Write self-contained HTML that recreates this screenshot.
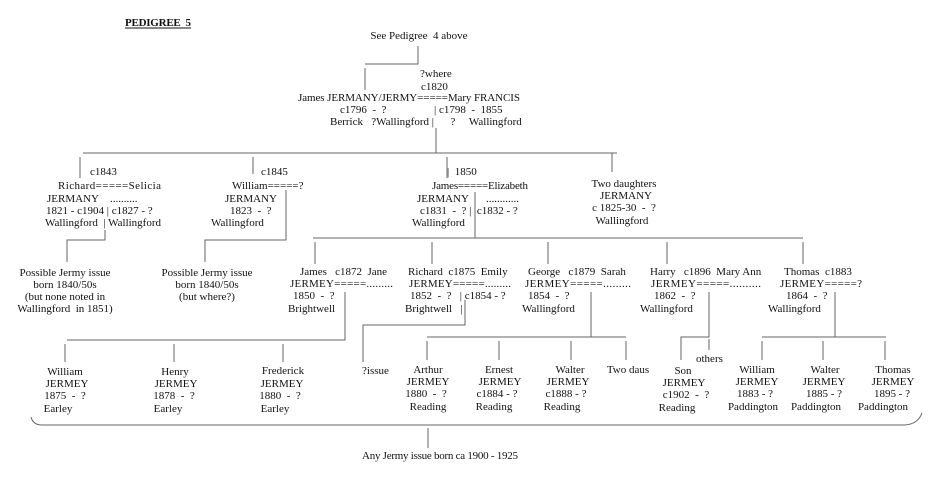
<!DOCTYPE html>
<html><head><meta charset="utf-8"><style>
html,body{margin:0;padding:0;background:#fff;}
svg{display:block;}
text{font-family:"Liberation Serif",serif;font-size:11px;fill:#111;white-space:pre;}
.m{text-anchor:middle;}
line,path,polyline{stroke:#666;stroke-width:1;fill:none;}
</style></head><body>
<svg width="945" height="482" viewBox="0 0 945 482" xml:space="preserve">
<text x="125" y="26" style="font-weight:bold" textLength="66">PEDIGREE  5</text>
<line x1="125" y1="28" x2="191" y2="28" style="stroke:#111"/>
<text class="m" x="419" y="39">See Pedigree  4 above</text>
<polyline points="418,46 418,64 365,64"/>
<line x1="365" y1="68" x2="365" y2="90"/>
<text x="420" y="77">?where</text>
<text x="421" y="90">c1820</text>
<text x="298" y="101" textLength="222">James JERMANY/JERMY=====Mary FRANCIS</text>
<text x="340" y="113">c1796  -  ?</text>
<text x="434" y="113">| c1798  -  1855</text>
<text x="330" y="125">Berrick   ?Wallingford |      ?     Wallingford</text>
<line x1="436" y1="128" x2="436" y2="153"/>
<line x1="83" y1="153" x2="617" y2="153"/>
<line x1="80" y1="157" x2="80" y2="178"/>
<line x1="253" y1="157" x2="253" y2="174"/>
<line x1="447" y1="157" x2="447" y2="178"/>
<line x1="612" y1="153" x2="612" y2="172"/>
<!-- Richard -->
<text x="90" y="175">c1843</text>
<text x="58" y="189" textLength="103">Richard=====Selicia</text>
<text x="47" y="202">JERMANY</text>
<text x="110" y="202">..........</text>
<text x="46" y="214">1821 - c1904 | c1827 - ?</text>
<text x="45" y="226">Wallingford  | Wallingford</text>
<polyline points="105,230 105,240 67,240 67,262"/>
<text class="m" x="65" y="276">Possible Jermy issue</text>
<text class="m" x="65" y="288">born 1840/50s</text>
<text class="m" x="65" y="300">(but none noted in</text>
<text class="m" x="65" y="312">Wallingford  in 1851)</text>
<!-- William -->
<text x="261" y="175">c1845</text>
<text x="232" y="189">William=====?</text>
<text x="225" y="202">JERMANY</text>
<text x="230" y="214">1823  -  ?</text>
<text x="211" y="226">Wallingford</text>
<polyline points="286,190 286,240 205,240 205,262"/>
<text class="m" x="207" y="276">Possible Jermy issue</text>
<text class="m" x="207" y="288">born 1840/50s</text>
<text class="m" x="207" y="300">(but where?)</text>
<!-- James 1850 -->
<text x="447" y="175">|  1850</text>
<text x="432" y="189" textLength="96">James=====Elizabeth</text>
<text x="417" y="202">JERMANY</text>
<text x="486" y="202">............</text>
<text x="420" y="214">c1831  -  ? |  c1832 - ?</text>
<text x="412" y="226">Wallingford</text>
<line x1="475" y1="192" x2="475" y2="238"/>
<!-- two daughters -->
<text class="m" x="624" y="187">Two daughters</text>
<text class="m" x="626" y="199">JERMANY</text>
<text class="m" x="624" y="211">c 1825-30  -  ?</text>
<text class="m" x="622" y="224">Wallingford</text>
<!-- gen3 bar -->
<line x1="313" y1="238" x2="803" y2="238"/>
<line x1="315" y1="242" x2="315" y2="264"/>
<line x1="432" y1="242" x2="432" y2="264"/>
<line x1="548" y1="242" x2="548" y2="264"/>
<line x1="667" y1="242" x2="667" y2="264"/>
<line x1="803" y1="242" x2="803" y2="264"/>
<!-- James c1872 -->
<text x="300" y="275">James   c1872  Jane</text>
<text x="290" y="287" textLength="103">JERMEY=====.........</text>
<text x="293" y="299">1850  -  ?</text>
<text x="288" y="312">Brightwell</text>
<polyline points="345,292 345,340 67,340"/>
<line x1="65" y1="344" x2="65" y2="362"/>
<line x1="174" y1="344" x2="174" y2="362"/>
<line x1="283" y1="344" x2="283" y2="362"/>
<text class="m" x="65" y="375">William</text>
<text class="m" x="67" y="387">JERMEY</text>
<text class="m" x="65" y="399">1875  -  ?</text>
<text class="m" x="58" y="412">Earley</text>
<text class="m" x="175" y="375">Henry</text>
<text class="m" x="176" y="387">JERMEY</text>
<text class="m" x="174" y="399">1878  -  ?</text>
<text class="m" x="168" y="412">Earley</text>
<text class="m" x="283" y="374">Frederick</text>
<text class="m" x="282" y="387">JERMEY</text>
<text class="m" x="280" y="399">1880  -  ?</text>
<text class="m" x="275" y="412">Earley</text>
<!-- Richard c1875 -->
<text x="408" y="275">Richard  c1875  Emily</text>
<text x="409" y="287" textLength="102">JERMEY=====.........</text>
<text x="410" y="299">1852  -  ?   | c1854 - ?</text>
<text x="405" y="312">Brightwell   |</text>
<polyline points="465,300 465,325 363,325 363,362"/>
<text x="362" y="374">?issue</text>
<!-- George -->
<text x="528" y="275">George   c1879  Sarah</text>
<text x="525" y="287" textLength="106">JERMEY=====.........</text>
<text x="528" y="299">1854  -  ?</text>
<text x="522" y="312">Wallingford</text>
<polyline points="591,292 591,337"/>
<line x1="427" y1="337" x2="626" y2="337"/>
<line x1="427" y1="341" x2="427" y2="360"/>
<line x1="499" y1="341" x2="499" y2="360"/>
<line x1="571" y1="341" x2="571" y2="360"/>
<line x1="626" y1="341" x2="626" y2="360"/>
<text class="m" x="428" y="373">Arthur</text>
<text class="m" x="428" y="385">JERMEY</text>
<text class="m" x="426" y="397">1880  -  ?</text>
<text class="m" x="428" y="410">Reading</text>
<text class="m" x="499" y="373">Ernest</text>
<text class="m" x="500" y="385">JERMEY</text>
<text class="m" x="497" y="397">c1884 - ?</text>
<text class="m" x="494" y="410">Reading</text>
<text class="m" x="570" y="373">Walter</text>
<text class="m" x="568" y="385">JERMEY</text>
<text class="m" x="566" y="397">c1888 - ?</text>
<text class="m" x="562" y="410">Reading</text>
<text class="m" x="628" y="373">Two daus</text>
<!-- Harry -->
<text x="650" y="275">Harry   c1896  Mary Ann</text>
<text x="651" y="287" textLength="110">JERMEY=====..........</text>
<text x="654" y="299">1862  -  ?</text>
<text x="640" y="312">Wallingford</text>
<polyline points="709,292 709,337 681,337 681,360"/>
<line x1="709" y1="339" x2="709" y2="350"/>
<text x="696" y="362">others</text>
<text class="m" x="683" y="374">Son</text>
<text class="m" x="684" y="386">JERMEY</text>
<text class="m" x="686" y="398">c1902  -  ?</text>
<text class="m" x="677" y="411">Reading</text>
<!-- Thomas -->
<text x="784" y="275">Thomas  c1883</text>
<text x="780" y="287" textLength="82">JERMEY=====?</text>
<text x="786" y="299">1864  -  ?</text>
<text x="768" y="312">Wallingford</text>
<polyline points="835,292 835,337"/>
<line x1="762" y1="337" x2="886" y2="337"/>
<line x1="762" y1="341" x2="762" y2="360"/>
<line x1="823" y1="341" x2="823" y2="360"/>
<line x1="885" y1="341" x2="885" y2="360"/>
<text class="m" x="757" y="373">William</text>
<text class="m" x="757" y="385">JERMEY</text>
<text class="m" x="755" y="397">1883 - ?</text>
<text class="m" x="753" y="410">Paddington</text>
<text class="m" x="825" y="373">Walter</text>
<text class="m" x="824" y="385">JERMEY</text>
<text class="m" x="824" y="397">1885 - ?</text>
<text class="m" x="816" y="410">Paddington</text>
<text class="m" x="893" y="373">Thomas</text>
<text class="m" x="893" y="385">JERMEY</text>
<text class="m" x="892" y="397">1895 - ?</text>
<text class="m" x="883" y="410">Paddington</text>
<!-- bracket -->
<path d="M31,417 Q33,425 42,425 L905,425 Q918,424 922,413"/>
<line x1="428" y1="428" x2="428" y2="448"/>
<text x="362" y="459" textLength="156">Any Jermy issue born ca 1900 - 1925</text>
</svg>
</body></html>
